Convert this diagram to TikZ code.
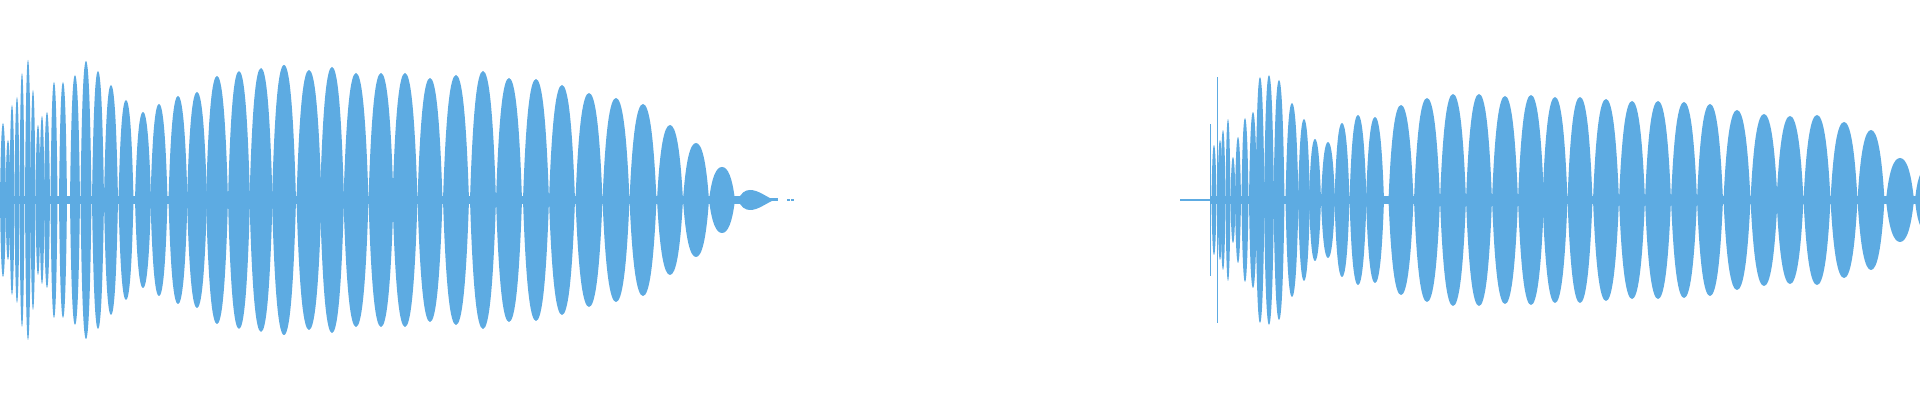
\documentclass[tikz,border=0pt]{standalone}
\definecolor{wave}{RGB}{93,171,226}
\tikzset{lobe/.style={fill=wave,draw=none}}
\newcommand{\lobeat}[3]{%
  \fill[lobe] (#1-#3,0) .. controls (#1-0.78*#3,0.7*#2) and (#1-0.45*#3,#2) .. (#1,#2)
    .. controls (#1+0.45*#3,#2) and (#1+0.78*#3,0.7*#2) .. (#1+#3,0)
    .. controls (#1+0.78*#3,-0.7*#2) and (#1+0.45*#3,-#2) .. (#1,-#2)
    .. controls (#1-0.45*#3,-#2) and (#1-0.78*#3,-0.7*#2) .. cycle;}
\begin{document}
\begin{tikzpicture}[x=0.01cm,y=0.01cm]
\useasboundingbox (0,-200) rectangle (1920,200);
\clip (0,-200) rectangle (1920,200);
\fill[wave] (0,-4) rectangle (745,4);
\fill[wave] (1210,-4) rectangle (1920,4);
\fill[wave] (745,-1.5) rectangle (778,1.5);
\fill[wave] (787,-1) rectangle (790,1);
\fill[wave] (791,-1) rectangle (794,1);
\fill[wave] (1180,-0.8) rectangle (1210,0.8);
\fill[wave] (1209.5,-76) rectangle (1210.5,76);
\fill[wave] (1216.5,-123) rectangle (1217.5,123);
\fill[wave] (738,0) .. controls (741,7) and (745,10) .. (750,10) .. controls (758,10) and (765,4) .. (772,1) -- (772,-1) .. controls (765,-4) and (758,-10) .. (750,-10) .. controls (745,-10) and (741,-7) .. cycle;
\foreach \x/\h/\w in {3/77/3,8/60/2.5,12/95/2.5,17/103/2.5,22/127/2.5,28/140/3,33/110/2.5,38/75/2.5,42/84/2.5,47/88/3,54/118/3.5,63/118/4,75/125/5,86/139/5.5,98/129/6,111/115/7,126/100/7.5,143/88/8,159/96/8.5,178/104/9.5,197/108/10,217/124/11,239/129/11,261/132/11.5,284/135/12,309/130/12.5,332/133/12,356/127/12.5,381/127/12.5,405/127/12.5,430/122/12.5,456/125/13,483/129/13,509/122/13,536/121/13,562/115/13,589/107/13.5,616/102/13.5,643/96/13.5,670/75/13,696/57/13,722/33/13,
1214/55/2.5,1220/60/2.5,1223/70/2.5,1228/81/2.5,1233/43/2.5,1238/63/3,1245/82/3.5,1253/88/4,1260/123/4.5,1269/125/5,1279/120/5.5,1292/97/6.5,1304/81/6,1315/61/6,1328/58/7,1342/77/7.5,1358/85/8.5,1375/83/9,1401/95/12.5,1427/102/13,1453/106/13,1479/106/13,1505/104/13,1531/105/13,1555/103/12.5,1580/103/12.5,1606/101/13,1632/99/13,1658/99/13,1684/98/13,1710/96/13,1737/90/13.5,1764/86/13.5,1790/84/13.5,1817/85/13.5,1844/78/13.5,1871/70/13.5,1900/42/14,1925/30/10}
  {\lobeat{\x}{\h}{\w}}
\end{tikzpicture}
\end{document}
